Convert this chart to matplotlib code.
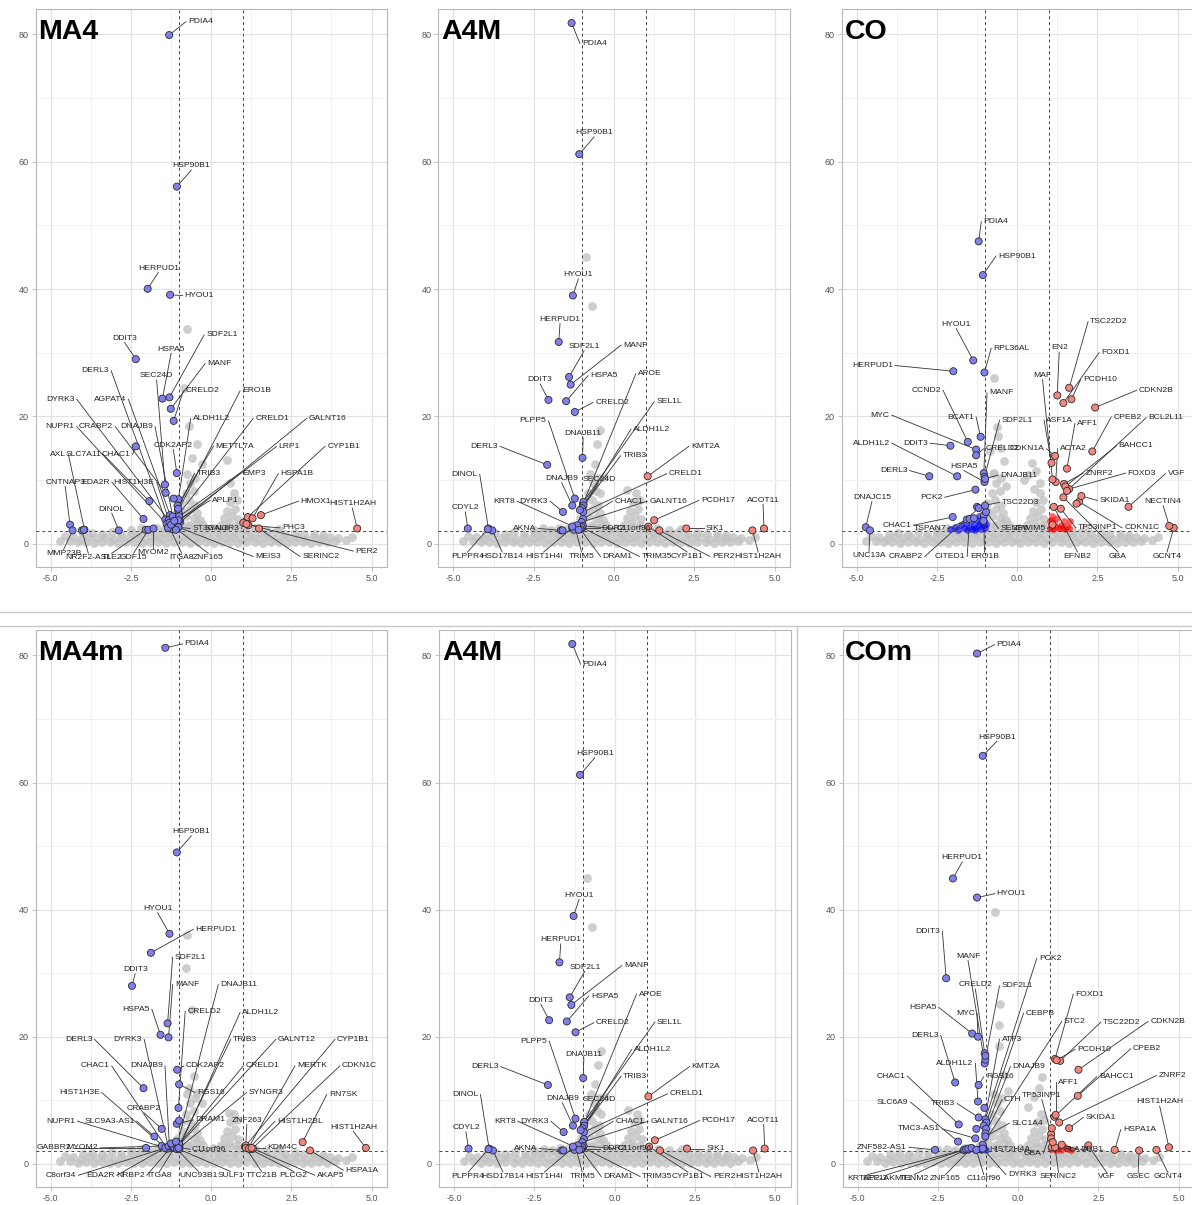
import matplotlib.pyplot as plt
from matplotlib.lines import Line2D

plt.rcParams['font.family'] = ['Liberation Sans', 'DejaVu Sans']

W, H = 1192, 1205

# ---------------- data ----------------
# non significant genes, shared cloud (log2FC, -log10 p)
grey_cloud = [
    (-4.4, 0.4), (-4.15, 0.2), (-3.9, 0.3), (-3.65, 0.1), (-3.4, 0.3), (-3.15, 0.2), (-2.9, 0.1), (-2.65, 0.3),
    (-2.4, 0.2), (-2.15, 0.1), (-1.9, 0.3), (-1.65, 0.2), (-1.4, 0.1), (-1.15, 0.3), (-0.9, 0.2), (-0.65, 0.1),
    (-0.4, 0.3), (-0.15, 0.2), (0.1, 0.1), (0.35, 0.3), (0.6, 0.2), (0.85, 0.1), (1.1, 0.3), (1.35, 0.2),
    (1.6, 0.1), (1.85, 0.3), (2.1, 0.2), (2.35, 0.1), (2.6, 0.3), (2.85, 0.2), (3.1, 0.1), (3.35, 0.3),
    (3.6, 0.2), (3.85, 0.4),
    (-4.3, 1.0), (-4.05, 0.8), (-3.8, 1.1), (-3.55, 0.9), (-3.3, 1.0), (-3.05, 0.8), (-2.8, 1.1), (-2.55, 0.9),
    (-2.3, 1.0), (-2.05, 0.8), (-1.8, 1.1), (-1.55, 0.9), (-1.3, 1.0), (-1.05, 0.8), (-0.8, 1.1), (-0.55, 0.9),
    (-0.3, 1.0), (-0.05, 0.8), (0.2, 1.1), (0.45, 0.9), (0.7, 1.0), (0.95, 0.8), (1.2, 1.1), (1.45, 0.9),
    (1.7, 1.0), (1.95, 0.8), (2.2, 1.1), (2.45, 0.9), (2.7, 1.0), (2.95, 0.8), (3.2, 1.1), (3.45, 0.9),
    (3.7, 1.0), (3.95, 0.9),
    (-4.0, 1.5), (-3.7, 1.7), (-3.4, 1.5), (-3.1, 1.8), (-2.8, 1.6), (-2.5, 1.7), (-2.25, 1.5), (-2.0, 1.8),
    (-1.75, 1.6), (-1.5, 1.7), (-1.25, 1.5), (-1.0, 1.8), (-0.75, 1.6), (-0.5, 1.7), (-0.25, 1.5), (0.0, 1.8),
    (0.25, 1.6), (0.5, 1.7), (0.75, 1.5), (1.0, 1.8), (1.25, 1.6), (1.5, 1.7), (1.75, 1.5), (2.0, 1.8),
    (2.3, 1.6), (2.6, 1.7), (2.9, 1.5), (3.2, 1.6), (3.5, 1.4),
    (-2.5, 2.2), (-2.2, 2.4), (-1.95, 2.2), (-1.7, 2.5), (-1.45, 2.3), (-1.2, 2.6), (-0.95, 2.3), (-0.7, 2.6),
    (-0.45, 2.4), (-0.2, 2.2), (0.05, 2.5), (0.3, 2.3), (0.55, 2.6), (0.8, 2.4), (1.05, 2.2), (1.35, 2.4),
    (1.7, 2.2), (2.1, 2.3),
    (-1.2, 3.0), (-0.95, 3.3), (-0.7, 3.0), (-0.45, 3.2), (-0.25, 2.9), (-1.05, 4.0), (-0.8, 4.3), (-0.55, 4.0),
    (-0.35, 3.8), (-0.9, 5.2), (-0.65, 5.5), (-0.45, 4.9), (-0.95, 6.4), (-0.7, 6.8), (-0.5, 6.1), (-0.8, 7.9),
    (-0.55, 8.3), (-0.65, 9.5), (-0.75, 11.0), (-0.5, 10.4),
    (0.3, 3.0), (0.55, 3.3), (0.8, 3.0), (0.4, 4.0), (0.65, 4.3), (0.85, 3.9), (0.5, 5.2), (0.75, 5.5),
    (0.6, 6.5), (0.8, 6.9), (0.7, 7.9),
    (-4.7, 0.5), (4.2, 0.6), (-4.55, 1.2), (4.4, 1.0),
]

# ---- MA4 ----
ma4_grey = [(-0.76, 33.8), (-0.45, 15.7), (0.48, 13.1), (-0.6, 13.5), (-0.3, 12.5), (0.6, 9.5),
            (-0.85, 24.5), (-0.7, 18.5)]
ma4_genes = [
    ("PDIA4", -1.31, 79.9), ("HSP90B1", -1.07, 56.1), ("HERPUD1", -1.98, 40.05), ("HYOU1", -1.28, 39.1),
    ("DDIT3", -2.35, 29.0), ("SDF2L1", -1.30, 23.0), ("HSPA5", -1.52, 22.8), ("MANF", -1.26, 21.2),
    ("SEC24D", -1.44, 9.3), ("CRELD2", -1.17, 19.3), ("DERL3", -1.43, 3.8), ("ERO1B", -1.03, 5.2),
    ("AGPAT4", -1.28, 4.5), ("DYRK3", -1.33, 3.7), ("ALDH1L2", -1.02, 7.0), ("CRELD1", -1.0, 4.7),
    ("GALNT16", -0.97, 3.4), ("NUPR1", -1.39, 3.1), ("CRABP2", -1.42, 8.0), ("DNAJB9", -1.2, 4.3),
    ("CDK2AP2", -1.07, 11.1), ("METTL7A", -1.05, 6.0), ("LRP1", -1.0, 3.7), ("CYP1B1", 1.14, 4.2),
    ("AXL", -3.95, 2.2), ("CHAC1", -2.35, 15.3), ("SLC7A11", -1.93, 6.7), ("TRIB3", -1.03, 5.5),
    ("EMP3", -1.0, 4.3), ("HSPA1B", 1.29, 4.0), ("CNTNAP3", -4.40, 3.0), ("EDA2R", -2.11, 3.9),
    ("HIST1H3E", -1.3, 3.3), ("APLP1", -1.02, 3.7), ("HMOX1", 1.55, 4.5), ("HIST1H2AH", 4.55, 2.4),
    ("DINOL", -2.88, 2.1), ("PHC3", 1.16, 2.9), ("ST3GAL6", -1.03, 2.6), ("SYNGR3", 1.0, 3.3),
    ("MMP23B", -4.32, 2.1), ("NR2F2-AS1", -4.03, 2.1), ("TLE2", -2.04, 2.2), ("GDF15", -1.96, 2.2),
    ("MYOM2", -1.80, 2.4), ("ITGA8", -1.28, 2.4), ("ZNF165", -1.15, 2.6), ("MEIS3", -1.02, 2.6),
    ("SERINC2", 1.49, 2.4), ("PER2", 1.1, 3.1),
    (None, -3.97, 2.2), (None, -1.2, 2.3), (None, -1.1, 2.2), (None, -1.35, 2.5), (None, -1.25, 3.0),
    (None, -1.15, 3.6), (None, -1.17, 7.1),
]
ma4_labels = {
    "PDIA4": (-0.79, 82.0, 'l'), "HSP90B1": (-0.62, 58.7, 'b'), "HERPUD1": (-1.65, 42.6, 'b'),
    "HYOU1": (-0.89, 39.0, 'l'), "DDIT3": (-2.70, 31.6, 'b'), "SDF2L1": (-0.22, 32.8, 'l'),
    "HSPA5": (-1.25, 29.9, 'b'), "MANF": (-0.19, 28.3, 'l'), "SEC24D": (-1.70, 25.7, 'b'),
    "CRELD2": (-0.87, 24.0, 'l'), "DERL3": (-3.12, 27.2, 'r'), "ERO1B": (0.90, 24.0, 'l'),
    "AGPAT4": (-2.58, 22.7, 'r'), "DYRK3": (-4.19, 22.7, 'r'), "ALDH1L2": (-0.64, 19.7, 'l'),
    "CRELD1": (1.31, 19.7, 'l'), "GALNT16": (2.98, 19.7, 'l'), "NUPR1": (-4.19, 18.4, 'r'),
    "CRABP2": (-2.99, 18.4, 'r'), "DNAJB9": (-1.75, 18.4, 'r'), "CDK2AP2": (-1.18, 14.8, 'b'),
    "METTL7A": (0.07, 15.3, 'l'), "LRP1": (2.04, 15.3, 'l'), "CYP1B1": (3.55, 15.3, 'l'),
    "AXL": (-4.45, 14.0, 'r'), "CHAC1": (-2.45, 14.0, 'r'), "SLC7A11": (-3.36, 14.0, 'r'),
    "TRIB3": (-0.52, 11.1, 'l'), "EMP3": (0.90, 11.1, 'l'), "HSPA1B": (2.09, 11.0, 'l'),
    "CNTNAP3": (-4.55, 9.0, 'b'), "EDA2R": (-3.10, 9.7, 'r'), "HIST1H3E": (-1.70, 9.7, 'r'),
    "APLP1": (-0.04, 6.8, 'l'), "HMOX1": (2.72, 6.7, 'l'), "HIST1H2AH": (4.40, 5.6, 'b'),
    "DINOL": (-3.10, 4.8, 'b'), "PHC3": (2.14, 2.5, 'l'), "ST3GAL6": (-0.66, 2.4, 'l'),
    "SYNGR3": (0.95, 2.4, 'r'), "MMP23B": (-4.60, -0.9, 't'), "NR2F2-AS1": (-3.83, -1.5, 't'),
    "TLE2": (-3.10, -1.5, 't'), "GDF15": (-2.42, -1.5, 't'), "MYOM2": (-1.80, -0.7, 't'),
    "ITGA8": (-0.92, -1.5, 't'), "ZNF165": (-0.09, -1.5, 't'), "MEIS3": (1.31, -2.0, 'l'),
    "SERINC2": (2.77, -2.0, 'l'), "PER2": (4.43, -1.15, 'l'),
}

# ---- A4M (same comparison drawn twice) ----
a4m_grey = [(-0.70, 37.3), (-0.86, 45.0), (-0.52, 15.6), (-0.42, 17.8), (-0.43, 7.9), (-0.6, 12.5),
            (0.4, 8.5), (-0.3, 10.5)]
a4m_genes = [
    ("PDIA4", -1.32, 81.8), ("HSP90B1", -1.08, 61.2), ("HYOU1", -1.28, 39.0), ("HERPUD1", -1.72, 31.7),
    ("SDF2L1", -1.40, 26.2), ("MANF", -1.35, 25.0), ("HSPA5", -1.49, 22.4), ("DDIT3", -2.04, 22.6),
    ("CRELD2", -1.22, 20.7), ("APOE", -0.96, 6.3), ("SEL1L", -0.95, 6.6), ("PLPP5", -1.22, 7.1),
    ("DNAJB11", -0.98, 13.5), ("ALDH1L2", -0.95, 6.0), ("TRIB3", -1.0, 5.6), ("KMT2A", 1.05, 10.6),
    ("CRELD1", -0.96, 5.0), ("DERL3", -2.08, 12.4), ("DNAJB9", -1.30, 6.0), ("SEC24D", -1.06, 5.3),
    ("DINOL", -3.91, 2.4), ("CDYL2", -4.55, 2.4), ("KRT8", -1.22, 2.6), ("DYRK3", -1.59, 5.0),
    ("CHAC1", -0.96, 3.9), ("GALNT16", -1.01, 3.4), ("PCDH17", 1.25, 3.7), ("ACOT11", 4.67, 2.4),
    ("AKNA", -1.65, 2.1), ("DDR2", -1.01, 2.4), ("C11orf96", -0.97, 2.8), ("CYP1B1", 1.07, 2.7),
    ("SIK1", 2.25, 2.4), ("HIST1H2AH", 4.31, 2.1), ("PER2", 1.41, 2.1), ("TRIM35", -1.01, 2.6),
    ("DRAM1", -1.05, 2.3), ("TRIM5", -1.2, 2.4), ("HIST1H4I", -1.3, 2.5), ("HSD17B14", -3.79, 2.1),
    ("PLPPR4", -3.93, 2.3),
    (None, -1.25, 2.2), (None, -1.15, 2.9), (None, -1.1, 2.2), (None, -1.3, 2.7), (None, -1.6, 2.1),
]
a4m_labels = {
    "PDIA4": (-1.06, 78.6, 'l'), "HSP90B1": (-0.62, 63.9, 'b'), "HYOU1": (-1.11, 41.6, 'b'),
    "HERPUD1": (-1.68, 34.6, 'b'), "SDF2L1": (-0.93, 30.3, 'b'), "MANF": (0.22, 31.2, 'l'),
    "HSPA5": (-0.81, 26.4, 'l'), "DDIT3": (-2.30, 25.1, 'b'), "CRELD2": (-0.65, 22.2, 'l'),
    "APOE": (0.68, 26.7, 'l'), "SEL1L": (1.25, 22.3, 'l'), "PLPP5": (-2.04, 19.3, 'r'),
    "DNAJB11": (-0.96, 16.6, 'b'), "ALDH1L2": (0.53, 18.0, 'l'), "TRIB3": (0.20, 13.8, 'l'),
    "KMT2A": (2.33, 15.3, 'l'), "CRELD1": (1.64, 11.0, 'l'), "DERL3": (-3.55, 15.3, 'r'),
    "DNAJB9": (-1.63, 9.6, 'b'), "SEC24D": (-0.47, 9.5, 'b'), "DINOL": (-4.18, 10.9, 'r'),
    "CDYL2": (-4.63, 5.0, 'b'), "KRT8": (-3.02, 6.7, 'r'), "DYRK3": (-1.99, 6.7, 'r'),
    "CHAC1": (-0.04, 6.7, 'l'), "GALNT16": (1.04, 6.7, 'l'), "PCDH17": (2.64, 6.8, 'l'),
    "ACOT11": (4.64, 6.2, 'b'), "AKNA": (-2.35, 2.4, 'r'), "DDR2": (-0.45, 2.4, 'l'),
    "C11orf96": (0.02, 2.4, 'l'), "CYP1B1": (2.28, -1.3, 't'), "SIK1": (2.79, 2.4, 'l'),
    "HIST1H2AH": (4.49, -1.3, 't'), "PER2": (2.99, -2.0, 'l'), "TRIM35": (0.79, -2.0, 'l'),
    "DRAM1": (-0.42, -2.0, 'l'), "TRIM5": (-1.01, -1.3, 't'), "HIST1H4I": (-2.19, -1.3, 't'),
    "HSD17B14": (-3.48, -1.3, 't'), "PLPPR4": (-4.56, -1.3, 't'),
}

# ---- CO ----
co_grey = [(-0.73, 26.1), (-0.6, 17.0), (-0.62, 18.3), (0.45, 12.7), (-0.71, 11.1), (0.53, 8.6),
           (0.22, 10.0), (-0.4, 13.0), (-0.35, 9.0), (0.35, 10.8), (0.7, 9.5), (-0.85, 14.5),
           (0.6, 11.5), (-0.5, 15.0)]
co_genes = [
    ("PDIA4", -1.20, 47.5), ("HSP90B1", -1.07, 42.2), ("HYOU1", -1.37, 28.8), ("RPL36AL", -1.02, 26.9),
    ("HERPUD1", -1.99, 27.1), ("CCND2", -1.54, 16.0), ("MANF", -1.04, 11.1), ("BCAT1", -1.14, 16.8),
    ("SDF2L1", -1.02, 10.5), ("ASF1A", 1.07, 12.7), ("MYC", -1.28, 14.8), ("ALDH1L2", -1.87, 10.6),
    ("DDIT3", -2.08, 15.4), ("CRELD2", -1.28, 13.9), ("CDKN1A", 1.18, 13.8), ("ACTA2", 1.20, 9.7),
    ("AFF1", 1.55, 11.8), ("DERL3", -2.74, 10.6), ("HSPA5", -1.02, 9.7), ("DNAJB11", -1.0, 10.2),
    ("PCK2", -1.30, 8.5), ("TSC22D3", -1.25, 5.8), ("DNAJC15", -4.72, 2.6), ("CHAC1", -2.01, 4.2),
    ("TSPAN7", -1.57, 3.8), ("UNC13A", -4.59, 2.1), ("CRABP2", -1.20, 5.6), ("CITED1", -1.48, 3.9),
    ("ERO1B", -1.04, 4.5), ("SENP6", -0.97, 5.0), ("ZSWIM5", 1.1, 3.0), ("TP53INP1", 1.36, 5.5),
    ("CDKN1C", 1.93, 6.6), ("EFNB2", 1.14, 5.8), ("GBA", 1.44, 7.3), ("GCNT4", 4.88, 2.5),
    ("NECTIN4", 4.74, 2.8), ("VGF", 3.47, 5.8), ("SKIDA1", 2.0, 7.5), ("FOXD3", 1.62, 8.6),
    ("ZNRF2", 1.46, 9.4), ("BAHCC1", 1.50, 9.0), ("CPEB2", 2.34, 14.5), ("BCL2L11", 1.55, 8.3),
    ("CDKN2B", 2.43, 21.4), ("PCDH10", 1.69, 22.7), ("FOXD1", 1.44, 22.1), ("TSC22D2", 1.62, 24.5),
    ("EN2", 1.25, 23.3), ("MAF", 1.10, 10.1),
    (None, -1.0, 6.0), (None, -1.35, 4.0), (None, -1.05, 3.6), (None, 1.85, 6.3),
]
co_labels = {
    "PDIA4": (-1.12, 50.6, 'l'), "HSP90B1": (-0.66, 45.2, 'l'), "HYOU1": (-1.90, 33.8, 'b'),
    "RPL36AL": (-0.81, 30.7, 'l'), "HERPUD1": (-3.81, 28.0, 'r'), "CCND2": (-2.31, 24.1, 'r'),
    "MANF": (-0.94, 23.7, 'l'), "BCAT1": (-1.28, 19.9, 'r'), "SDF2L1": (-0.55, 19.4, 'l'),
    "ASF1A": (0.84, 19.4, 'l'), "MYC": (-3.91, 20.2, 'r'), "ALDH1L2": (-3.91, 15.8, 'r'),
    "DDIT3": (-2.72, 15.8, 'r'), "CRELD2": (-1.05, 14.9, 'l'), "CDKN1A": (0.92, 14.9, 'r'),
    "ACTA2": (1.26, 14.9, 'l'), "AFF1": (1.80, 18.9, 'l'), "DERL3": (-3.35, 11.5, 'r'),
    "HSPA5": (-1.66, 11.5, 'b'), "DNAJB11": (-0.60, 10.8, 'l'), "PCK2": (-2.26, 7.3, 'r'),
    "TSC22D3": (-0.55, 6.5, 'l'), "DNAJC15": (-4.53, 6.6, 'b'), "CHAC1": (-3.24, 2.9, 'r'),
    "TSPAN7": (-2.14, 2.4, 'r'), "UNC13A": (-4.62, -1.2, 't'), "CRABP2": (-2.88, -2.0, 'r'),
    "CITED1": (-1.56, -2.0, 'r'), "ERO1B": (-1.02, -1.3, 't'), "SENP6": (-0.58, 2.4, 'l'),
    "ZSWIM5": (0.95, 2.4, 'r'), "TP53INP1": (1.83, 2.5, 'l'), "CDKN1C": (3.27, 2.5, 'l'),
    "EFNB2": (1.88, -1.3, 't'), "GBA": (3.14, -1.3, 't'), "GCNT4": (4.67, -1.3, 't'),
    "NECTIN4": (4.55, 6.0, 'b'), "VGF": (4.62, 11.0, 'l'), "SKIDA1": (2.50, 6.8, 'l'),
    "FOXD3": (3.38, 11.1, 'l'), "ZNRF2": (2.06, 11.1, 'l'), "BAHCC1": (3.10, 15.4, 'l'),
    "CPEB2": (2.93, 19.9, 'l'), "BCL2L11": (4.02, 19.8, 'l'), "CDKN2B": (3.72, 24.1, 'l'),
    "PCDH10": (1.98, 25.8, 'l'), "FOXD1": (2.55, 30.0, 'l'), "TSC22D2": (2.21, 34.9, 'l'),
    "EN2": (1.31, 30.1, 'b'), "MAF": (0.79, 25.8, 'b'),
}
co_down_unlab = [(-2.1, 2.3), (-1.95, 2.6), (-1.85, 2.2), (-1.75, 2.9), (-1.65, 2.4), (-1.6, 3.2),
                 (-1.5, 2.6), (-1.45, 3.5), (-1.4, 2.3), (-1.35, 3.0), (-1.3, 2.5), (-1.25, 3.8),
                 (-1.2, 2.8), (-1.15, 3.3), (-1.12, 2.3), (-1.08, 4.2), (-1.05, 2.9), (-1.02, 3.6),
                 (-1.0, 2.4), (-0.98, 3.1), (-1.3, 2.2), (-1.55, 2.1), (-1.18, 4.4)]
co_up_unlab = [(1.02, 2.4), (1.05, 3.1), (1.08, 2.7), (1.1, 3.8), (1.12, 2.3), (1.15, 3.3), (1.2, 2.6),
               (1.25, 4.0), (1.3, 2.4), (1.35, 3.0), (1.4, 2.5), (1.45, 3.5), (1.5, 2.3), (1.55, 2.8),
               (1.6, 2.4), (1.65, 3.6), (1.1, 4.3), (1.03, 3.5)]

# ---- MA4m ----
ma4m_grey = [(-0.76, 36.0), (-0.78, 30.8), (-0.61, 24.2), (-0.68, 11.9), (-0.45, 11.2), (-0.55, 13.8),
             (0.55, 8.0), (-0.3, 9.5)]
ma4m_genes = [
    ("PDIA4", -1.43, 81.2), ("HSP90B1", -1.07, 49.0), ("HYOU1", -1.30, 36.2), ("HERPUD1", -1.88, 33.2),
    ("SDF2L1", -1.36, 22.1), ("DDIT3", -2.47, 28.0), ("MANF", -1.33, 19.9), ("DNAJB11", -1.07, 2.8),
    ("HSPA5", -1.58, 20.3), ("CRELD2", -1.02, 8.8), ("ALDH1L2", -0.99, 2.6), ("DERL3", -2.11, 11.9),
    ("DYRK3", -1.33, 2.5), ("TRIB3", -1.01, 2.8), ("GALNT12", -0.99, 3.0), ("CYP1B1", 1.05, 2.7),
    ("CHAC1", -1.39, 2.5), ("DNAJB9", -1.30, 2.6), ("CDK2AP2", -1.06, 14.8), ("CRELD1", -1.0, 3.1),
    ("MERTK", 1.16, 2.5), ("CDKN1C", 1.26, 2.3), ("HIST1H3E", -1.40, 2.4), ("RGS16", -1.0, 12.5),
    ("SYNGR3", -1.02, 2.4), ("RN7SK", 2.85, 3.4), ("CRABP2", -1.54, 5.5), ("NUPR1", -1.35, 2.4),
    ("SLC9A3-AS1", -1.77, 4.3), ("DRAM1", -1.07, 6.3), ("ZNF263", 1.08, 2.9), ("HIST1H2BL", 1.16, 2.4),
    ("HIST1H2AH", 4.82, 2.5), ("GABBR2", -2.03, 2.5), ("MYOM2", -1.54, 2.8), ("C8orf34", -1.43, 2.5),
    ("EDA2R", -1.33, 2.8), ("NRBP2", -1.22, 2.8), ("ITGA8", -1.15, 2.5), ("UNC93B1", -1.07, 2.3),
    ("SULF1", -1.0, 2.3), ("TTC21B", 1.08, 2.5), ("PLCG2", 1.18, 2.4), ("AKAP5", 1.30, 2.4),
    ("HSPA1A", 3.08, 2.1), ("KDM4C", 1.26, 2.5), ("C11orf96", -1.02, 2.5),
    (None, -1.0, 6.8), (None, -1.25, 3.2), (None, -1.1, 3.5),
]
ma4m_labels = {
    "PDIA4": (-0.89, 81.8, 'l'), "HSP90B1": (-0.62, 51.6, 'b'), "HYOU1": (-1.67, 39.5, 'b'),
    "HERPUD1": (-0.56, 36.9, 'l'), "SDF2L1": (-1.20, 32.5, 'l'), "DDIT3": (-2.37, 29.9, 'b'),
    "MANF": (-1.20, 28.2, 'l'), "DNAJB11": (0.22, 28.2, 'l'), "HSPA5": (-1.85, 24.3, 'r'),
    "CRELD2": (-0.81, 24.0, 'l'), "ALDH1L2": (0.90, 23.8, 'l'), "DERL3": (-3.64, 19.6, 'r'),
    "DYRK3": (-2.09, 19.6, 'r'), "TRIB3": (0.61, 19.6, 'l'), "GALNT12": (2.02, 19.6, 'l'),
    "CYP1B1": (3.86, 19.6, 'l'), "CHAC1": (-3.10, 15.4, 'r'), "DNAJB9": (-1.44, 15.4, 'r'),
    "CDK2AP2": (-0.85, 15.4, 'l'), "CRELD1": (1.0, 15.4, 'l'), "MERTK": (2.61, 15.4, 'l'),
    "CDKN1C": (4.01, 15.4, 'l'), "HIST1H3E": (-3.41, 11.2, 'r'), "RGS16": (-0.50, 11.2, 'l'),
    "SYNGR3": (1.10, 11.2, 'l'), "RN7SK": (3.60, 10.9, 'l'), "CRABP2": (-2.09, 8.0, 'b'),
    "NUPR1": (-4.17, 6.7, 'r'), "SLC9A3-AS1": (-2.32, 6.7, 'r'), "DRAM1": (-0.56, 6.9, 'l'),
    "ZNF263": (1.11, 6.2, 'b'), "HIST1H2BL": (1.99, 6.7, 'l'), "HIST1H2AH": (4.43, 5.1, 'b'),
    "GABBR2": (-4.29, 2.5, 'r'), "MYOM2": (-3.46, 2.5, 'r'), "C8orf34": (-4.14, -1.8, 'r'),
    "EDA2R": (-2.94, -1.8, 'r'), "NRBP2": (-2.01, -1.8, 'r'), "ITGA8": (-1.61, -1.2, 't'),
    "UNC93B1": (-0.40, -1.2, 't'), "SULF1": (0.60, -1.2, 't'), "TTC21B": (1.57, -1.2, 't'),
    "PLCG2": (2.57, -1.2, 't'), "AKAP5": (3.23, -1.8, 'l'), "HSPA1A": (4.12, -1.0, 'l'),
    "KDM4C": (1.68, 2.5, 'l'), "C11orf96": (-0.66, 2.3, 'l'),
}

# ---- COm ----
com_grey = [(-0.73, 39.7), (-0.55, 25.1), (-0.58, 21.9), (0.74, 13.6), (-0.6, 18.5), (-0.45, 14.0),
            (0.5, 10.5), (-0.3, 11.5), (0.3, 9.0), (0.65, 12.0)]
com_genes = [
    ("PDIA4", -1.28, 80.3), ("HSP90B1", -1.10, 64.2), ("HERPUD1", -2.03, 44.9), ("HYOU1", -1.28, 41.9),
    ("DDIT3", -2.24, 29.2), ("MANF", -1.04, 15.8), ("PCK2", -1.02, 7.0), ("CRELD2", -1.04, 17.4),
    ("SDF2L1", -1.02, 16.4), ("HSPA5", -1.43, 20.5), ("MYC", -1.25, 20.0), ("CEBPB", -0.99, 6.5),
    ("FOXD1", 1.15, 16.5), ("STC2", -1.1, 3.0), ("TSC22D2", 1.31, 16.2), ("CDKN2B", 1.88, 14.8),
    ("DERL3", -1.96, 12.8), ("ATF3", -1.07, 6.0), ("PCDH10", 1.20, 16.3), ("CPEB2", 1.86, 10.7),
    ("ALDH1L2", -1.25, 9.8), ("DNAJB9", -1.0, 5.5), ("BAHCC1", 1.13, 7.4), ("ZNRF2", 1.28, 6.5),
    ("CHAC1", -1.85, 6.2), ("RGS16", -1.23, 12.4), ("AFF1", 1.17, 7.7), ("HIST1H2AH", 4.70, 2.6),
    ("SLC6A9", -1.87, 3.5), ("TRIB3", -1.23, 7.3), ("CTH", -1.02, 4.8), ("TP53INP1", 1.03, 4.7),
    ("SKIDA1", 1.59, 5.6), ("HSPA1A", 3.01, 2.2), ("TMC3-AS1", -1.33, 4.0), ("SLC1A4", -1.02, 4.3),
    ("ZNF582-AS1", -2.59, 2.2), ("HIST2H4A", -1.15, 2.3), ("GBA", 1.05, 5.6), ("HLA-A", 1.05, 2.6),
    ("DDB1", 1.36, 3.0), ("KRTAP2-3", -1.68, 2.2), ("EEF1AKMT1", -1.62, 2.3), ("TENM2", -1.55, 2.4),
    ("ZNF165", -1.45, 2.5), ("C11orf96", -1.3, 2.2), ("DYRK3", -1.1, 2.4), ("SERINC2", 1.15, 2.6),
    ("VGF", 2.19, 2.9), ("GSEC", 3.77, 2.1), ("GCNT4", 4.31, 2.2),
    (None, -1.02, 17.0), (None, -1.3, 5.5), (None, -1.05, 8.8), (None, 1.03, 4.0), (None, 1.08, 3.4),
]
com_labels = {
    "PDIA4": (-0.73, 81.7, 'l'), "HSP90B1": (-0.66, 66.5, 'b'), "HERPUD1": (-1.74, 47.5, 'b'),
    "HYOU1": (-0.73, 42.5, 'l'), "DDIT3": (-2.36, 36.6, 'r'), "MANF": (-1.56, 32.0, 'b'),
    "PCK2": (0.58, 32.3, 'l'), "CRELD2": (-1.33, 27.5, 'b'), "SDF2L1": (-0.58, 28.0, 'l'),
    "HSPA5": (-2.47, 24.6, 'r'), "MYC": (-1.28, 23.7, 'r'), "CEBPB": (0.17, 23.7, 'l'),
    "FOXD1": (1.72, 26.7, 'l'), "STC2": (1.36, 22.4, 'l'), "TSC22D2": (2.58, 22.3, 'l'),
    "CDKN2B": (4.05, 22.4, 'l'), "DERL3": (-2.41, 20.2, 'r'), "ATF3": (-0.58, 19.6, 'l'),
    "PCDH10": (1.77, 18.0, 'l'), "CPEB2": (3.51, 18.1, 'l'), "ALDH1L2": (-1.33, 15.8, 'r'),
    "DNAJB9": (-0.24, 15.3, 'l'), "BAHCC1": (2.45, 13.7, 'l'), "ZNRF2": (4.31, 13.9, 'l'),
    "CHAC1": (-3.45, 13.8, 'r'), "RGS16": (-1.07, 13.7, 'l'), "AFF1": (1.17, 12.8, 'l'),
    "HIST1H2AH": (4.41, 9.1, 'b'), "SLC6A9": (-3.35, 9.7, 'r'), "TRIB3": (-1.90, 9.5, 'r'),
    "CTH": (-0.50, 10.1, 'l'), "TP53INP1": (0.74, 10.1, 'b'), "SKIDA1": (2.03, 7.3, 'l'),
    "HSPA1A": (3.20, 5.4, 'l'), "TMC3-AS1": (-2.36, 5.5, 'r'), "SLC1A4": (-0.27, 6.4, 'l'),
    "ZNF582-AS1": (-3.40, 2.6, 'r'), "HIST2H4A": (-0.97, 2.3, 'l'), "GBA": (0.79, 1.7, 'r'),
    "HLA-A": (1.33, 2.3, 'l'), "DDB1": (1.86, 2.3, 'l'), "KRTAP2-3": (-4.69, -1.7, 't'),
    "EEF1AKMT1": (-4.07, -1.7, 't'), "TENM2": (-3.24, -1.7, 't'), "ZNF165": (-2.26, -1.7, 't'),
    "C11orf96": (-1.07, -1.7, 't'), "DYRK3": (-0.38, -1.7, 'l'), "SERINC2": (1.26, -1.4, 't'),
    "VGF": (2.76, -1.4, 't'), "GSEC": (3.74, -1.4, 't'), "GCNT4": (4.67, -1.4, 't'),
}
com_down_unlab = [(-1.75, 2.2), (-1.65, 2.4), (-1.55, 2.2), (-1.45, 2.5), (-1.35, 2.2), (-1.25, 2.4),
                  (-1.15, 2.2), (-1.05, 2.5), (-1.0, 2.2)]
com_up_unlab = [(1.02, 2.3), (1.1, 2.6), (1.18, 2.2), (1.25, 2.5), (1.35, 2.2), (1.45, 2.6), (1.55, 2.3),
                (1.65, 2.2), (1.05, 2.9)]

x_ticks = [-5, -2.5, 0, 2.5, 5]
x_ticklabels = ["-5.0", "-2.5", "0.0", "2.5", "5.0"]
y_ticks = [0, 20, 40, 60, 80]

# ---------------- drawing ----------------
fig = plt.figure(figsize=(W / 100, H / 100), dpi=100)


def panel(l, t, r, b):
    return fig.add_axes([l / W, 1 - b / H, (r - l) / W, (b - t) / H])


BLUE = '#7f7fee'
RED = '#f2857d'
offs = {'l': ((1.5, 0), 'left', 'center'), 'r': ((-1.5, 0), 'right', 'center'),
        'b': ((0, 0.5), 'center', 'bottom'), 't': ((0, -0.5), 'center', 'top')}


def draw(ax, title, genes, labels, extra_grey, down_unlab=(), up_unlab=()):
    ax.set_xlim(-5.47, 5.48)
    ax.set_ylim(-3.65, 84.0)
    ax.set_xticks(x_ticks)
    ax.set_xticklabels(x_ticklabels)
    ax.set_yticks(y_ticks)
    ax.set_xticks([-3.75, -1.25, 1.25, 3.75], minor=True)
    ax.set_yticks([10, 30, 50, 70], minor=True)
    ax.grid(True, which='major', color='#e2e2e2', lw=0.9)
    ax.grid(True, which='minor', color='#eeeeee', lw=0.6)
    ax.set_axisbelow(True)
    for s in ax.spines.values():
        s.set_color('#b8b8b8')
        s.set_linewidth(0.8)
    ax.tick_params(which='major', length=3, width=0.6, color='#b8b8b8', labelsize=6.5,
                   labelcolor='#555555', pad=2)
    ax.tick_params(which='minor', length=0)

    pts = grey_cloud + extra_grey
    ax.scatter([p[0] for p in pts], [p[1] for p in pts], s=40, color='#c2c2c2', alpha=0.8,
               linewidths=0, zorder=1)
    if down_unlab:
        ax.scatter([p[0] for p in down_unlab], [p[1] for p in down_unlab], s=24, color='#0000ff',
                   alpha=0.6, linewidths=0, zorder=2)
    if up_unlab:
        ax.scatter([p[0] for p in up_unlab], [p[1] for p in up_unlab], s=24, color='#ff0000',
                   alpha=0.6, linewidths=0, zorder=2)

    for xv in (-1, 1):
        ax.axvline(xv, color='#444444', lw=0.7, ls=(0, (3, 3)), zorder=3)
    ax.axhline(2, color='#444444', lw=0.7, ls=(0, (3, 3)), zorder=3)

    for name, x, y in genes:
        if name is None:
            continue
        lx, ly, side = labels[name]
        ax.plot([x, lx], [y, ly], color='#333333', lw=0.6, zorder=4)
        off, ha, va = offs[side]
        ax.annotate(name, (lx, ly), xytext=off, textcoords='offset points', ha=ha, va=va,
                    fontsize=6.1, color='#222222', zorder=6)

    cols = [BLUE if g[1] < 0 else RED for g in genes]
    ax.scatter([g[1] for g in genes], [g[2] for g in genes], s=26, c=cols, edgecolors='#2a2a2a',
               linewidths=0.6, zorder=5)

    ax.text(0.008, 0.982, title, transform=ax.transAxes, ha='left', va='top', fontsize=20.5,
            fontweight='bold', color='black', zorder=7)


draw(panel(35.7, 9, 387, 567), "MA4", ma4_genes, ma4_labels, ma4_grey)
draw(panel(438.3, 9, 790, 567), "A4M", a4m_genes, a4m_labels, a4m_grey)
draw(panel(841.7, 9, 1193, 567), "CO", co_genes, co_labels, co_grey, co_down_unlab, co_up_unlab)
draw(panel(35.7, 630, 387, 1187), "MA4m", ma4m_genes, ma4m_labels, ma4m_grey)
draw(panel(439, 630, 790.7, 1187), "A4M", a4m_genes, a4m_labels, a4m_grey)
draw(panel(842.5, 630, 1194, 1187), "COm", com_genes, com_labels, com_grey, com_down_unlab, com_up_unlab)

# separators between the stitched screenshots
for yy in (611.5, 626):
    fig.add_artist(Line2D([0, 1], [1 - yy / H] * 2, color='#c8c8c8', lw=1.0, transform=fig.transFigure))
fig.add_artist(Line2D([797 / W] * 2, [0, 1 - 626 / H], color='#c8c8c8', lw=1.0, transform=fig.transFigure))

fig.savefig('out.png', dpi=100)
